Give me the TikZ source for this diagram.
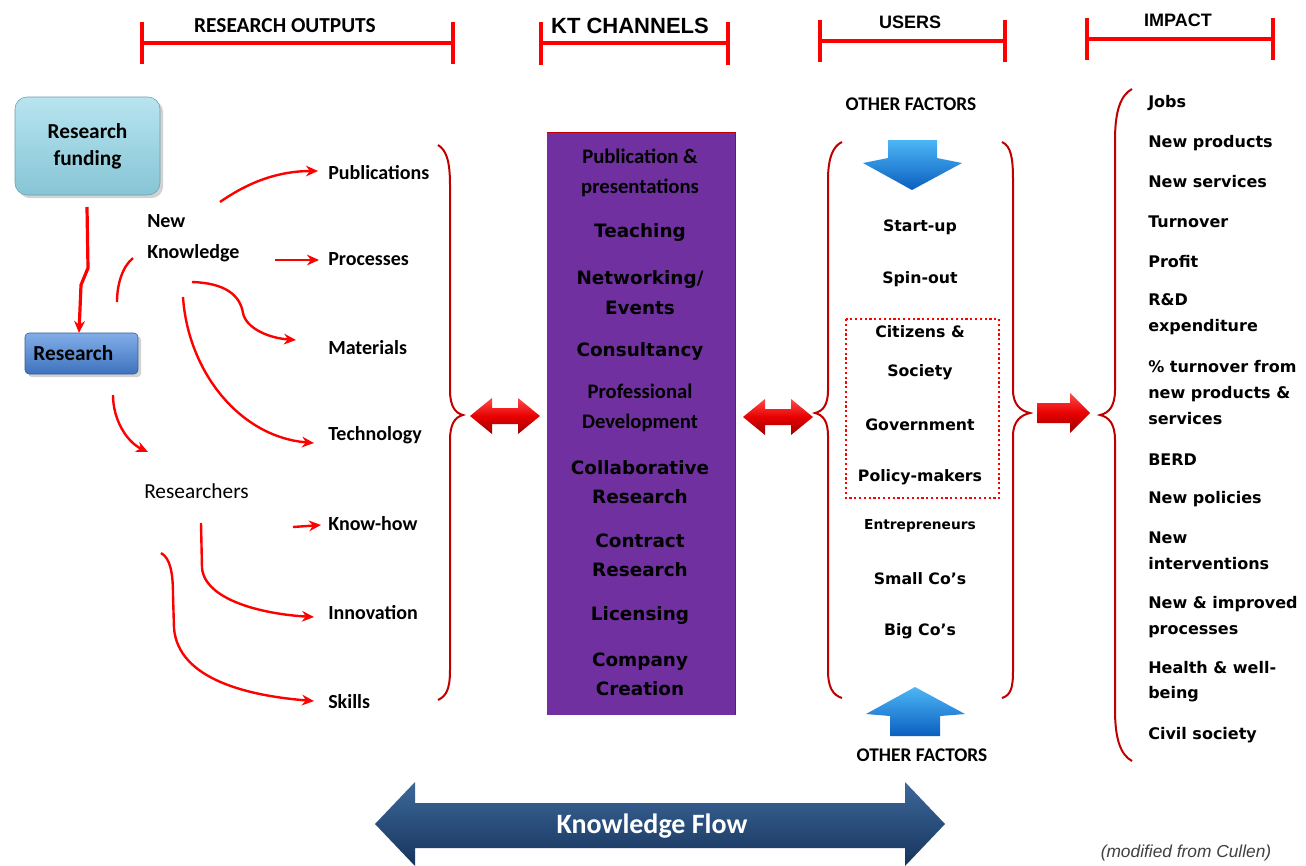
\documentclass[tikz,border=0pt]{standalone}
\usepackage{fontspec}
\setmainfont{Carlito}
\newfontfamily\dvs{DejaVu Sans}
\newfontfamily\lsans{Liberation Sans}
\usetikzlibrary{arrows.meta,shadows}
\definecolor{hred}{HTML}{FF0000}
\definecolor{bred}{HTML}{C00000}
\definecolor{ktpurple}{HTML}{7030A0}
\definecolor{navyA}{HTML}{3D6899}
\definecolor{navyB}{HTML}{16345C}
\definecolor{skyA}{HTML}{B8E4EF}
\definecolor{skyB}{HTML}{86C5D6}
\definecolor{boxA}{HTML}{82AEE8}
\definecolor{boxB}{HTML}{3E72BE}
\definecolor{blueA}{HTML}{4DB6F6}
\definecolor{blueB}{HTML}{0B5FBF}
\definecolor{rA}{HTML}{FF4A4A}
\definecolor{rM}{HTML}{E80000}
\definecolor{rB}{HTML}{9A0000}
\definecolor{notegray}{HTML}{404040}
\tikzset{
  hdrline/.style={hred, line width=3pt},
  hdrtxt/.style={font=\lsans\bfseries\fontsize{15}{17}\selectfont, inner sep=0},
  hdrtxtc/.style={font=\bfseries\fontsize{16}{18}\selectfont, inner sep=0},
  brace/.style={bred, line width=1.5pt},
  flow/.style={hred, line width=1.8pt, -{Stealth[length=9pt,width=8pt]}},
  flowplain/.style={hred, line width=1.8pt},
  outtxt/.style={font=\bfseries\fontsize{15}{18}\selectfont, anchor=west, inner sep=0},
  kt/.style={font=\dvs\bfseries\fontsize{13.8}{22}\selectfont, align=center, inner sep=0},
  ktc/.style={font=\bfseries\fontsize{15.5}{22}\selectfont, align=center, inner sep=0},
  usr/.style={font=\dvs\bfseries\fontsize{11.8}{14}\selectfont, inner sep=0},
  imp/.style={font=\dvs\bfseries\fontsize{12}{19.3}\selectfont, anchor=west, align=left, inner sep=0},
  oth/.style={font=\bfseries\fontsize{14.5}{16}\selectfont, inner sep=0},
  fundbox/.style={rounded corners=9pt, minimum width=108.75pt, minimum height=73.5pt,
     top color=skyA, bottom color=skyB, draw=skyB!80!black, line width=0.4pt,
     drop shadow={opacity=0.35}, align=center,
     font=\bfseries\fontsize{16}{20}\selectfont},
  resbox/.style={rounded corners=3pt, minimum width=84.75pt, minimum height=30.75pt,
     top color=boxA, bottom color=boxB, draw=boxB!80!black, line width=0.4pt,
     drop shadow={opacity=0.35}, font=\bfseries\fontsize{16}{18}\selectfont,
     text width=72pt, align=left},
  ktbox/.style={fill=ktpurple, minimum width=141pt, minimum height=436.5pt, inner sep=0},
  reddbl/.pic={\shade[top color=rA, bottom color=rB, middle color=rM]
     (-35,0) -- (-13,-18) -- (-13,-8) -- (13,-8) -- (13,-18) -- (35,0)
     -- (13,18) -- (13,8) -- (-13,8) -- (-13,18) -- cycle;}
}
\begin{document}
\begin{tikzpicture}[x=0.75pt,y=-0.75pt]
\useasboundingbox (0,0) rectangle (1306,865);
\fill[white] (0,0) rectangle (1306,865);

% ---------- header brackets ----------
\draw[hdrline] (142,22) -- (142,64) (142,43) -- (453,43) (453,22) -- (453,64);
\draw[hdrline] (541,22) -- (541,65) (541,43) -- (728,43) (728,22) -- (728,65);
\draw[hdrline] (820,20) -- (820,62) (820,41) -- (1005,41) (1005,20) -- (1005,62);
\draw[hdrline] (1087,18) -- (1087,60) (1087,39) -- (1273,39) (1273,18) -- (1273,60);
\node[hdrtxtc] (hRO) at (285,26) {RESEARCH OUTPUTS};
\node[hdrtxt, font=\lsans\bfseries\fontsize{16.5}{18}\selectfont] (hKT) at (630,26) {KT CHANNELS};
\node[hdrtxt, font=\lsans\bfseries\fontsize{13.5}{16}\selectfont] (hUS) at (910,22) {USERS};
\node[hdrtxt, font=\lsans\bfseries\fontsize{13.5}{16}\selectfont] (hIM) at (1178,20) {IMPACT};

% ---------- left side ----------
\node[fundbox] (fund) at (87.5,146) {Research\\funding};
\node[resbox] (res) at (81.5,353.5) {Research};
\node[outtxt, align=left, font=\bfseries\fontsize{15}{23}\selectfont] (nk) at (147,238) {New\\Knowledge};
\node[outtxt, font=\fontsize{16}{18}\selectfont] (rsr) at (144,491) {Researchers};

\node[outtxt] (pub) at (328,173) {Publications};
\node[outtxt] (proc) at (328,259) {Processes};
\node[outtxt] (mat) at (328,348) {Materials};
\node[outtxt] (tech) at (328,435) {Technology};
\node[outtxt] (know) at (328,524) {Know-how};
\node[outtxt] (inno) at (328,613) {Innovation};
\node[outtxt] (skl) at (328,702) {Skills};

\coordinate (fA) at (87,207);
\coordinate (rA) at (79,333);
\draw[flow, line width=2.4pt] (fA) -- (88,268) -- (81,285) -- (rA);
\coordinate (nkL) at (117,302);
\coordinate (nkT) at (133,258);
\draw[flowplain] (nkL) .. controls (117,285) and (122,267) .. (nkT);
\coordinate (pubS) at (220,202);
\coordinate (pubE) at (318,171);
\draw[flow] (pubS) .. controls (250,181) and (280,171) .. (pubE);
\coordinate (procS) at (275,260);
\coordinate (procE) at (319,260);
\draw[flow] (procS) -- (procE);
\coordinate (matS) at (192,282);
\coordinate (matE) at (296,340);
\draw[flow] (matS) .. controls (225,283) and (240,295) .. (243,313) .. controls (246,328) and (268,338) .. (matE);
\coordinate (techS) at (183,297);
\coordinate (techE) at (314,443);
\draw[flow] (techS) .. controls (188,372) and (240,437) .. (techE);
\coordinate (rsrS) at (113,395);
\coordinate (rsrE) at (148,452);
\draw[flow] (rsrS) .. controls (113,420) and (127,442) .. (rsrE);
\coordinate (khS) at (293,527);
\coordinate (khE) at (321,525);
\draw[flow] (khS) -- (khE);
\coordinate (innS) at (201,523);
\coordinate (innE) at (314,617);
\draw[flow] (innS) -- (202,568) .. controls (205,600) and (262,614) .. (innE);
\coordinate (sklS) at (161,553);
\coordinate (sklE) at (314,701);
\draw[flow] (sklS) .. controls (170,558) and (173,572) .. (173,595) -- (174,628) .. controls (178,680) and (250,696) .. (sklE);

% research outputs brace
\draw[brace] (438,145) .. controls (446,150) and (450,160) .. (450,185) -- (450,390)
  .. controls (450,406) and (455,413) .. (463,415) .. controls (455,417) and (450,424) .. (450,440)
  -- (450,670) .. controls (450,690) and (446,696) .. (438,700);

% double arrows
\pic at (505,416) {reddbl};
\pic at (778,417) {reddbl};

% ---------- KT channels ----------
\node[ktbox] (kt) at (641,424) {};
\draw[bred, line width=0.8pt] (kt.north west) -- (kt.north east) -- (kt.south east);
\node[ktc] (k1) at (640,173) {Publication \&\\presentations};
\node[kt] (k2) at (640,232) {Teaching};
\node[kt] (k3) at (640,292.5) {Networking/\\Events};
\node[kt] (k4) at (640,351) {Consultancy};
\node[ktc] (k5) at (640,408) {Professional\\Development};
\node[kt] (k6) at (640,482) {Collaborative\\Research};
\node[kt] (k7) at (640,555.5) {Contract\\Research};
\node[kt] (k8) at (640,615) {Licensing};
\node[kt] (k9) at (640,674.5) {Company\\Creation};

% ---------- users ----------
\node[oth] (of1) at (911,104) {OTHER FACTORS};
\node[oth] (of2) at (922,755) {OTHER FACTORS};
\shade[top color=blueA, bottom color=blueB] (888,140) -- (937,140) -- (937,158) -- (962,163) -- (912,190) -- (863,163) -- (888,158) -- cycle;
\shade[top color=blueA, bottom color=blueB] (890,736) -- (940,736) -- (940,716) -- (965,714) -- (915,687) -- (866,714) -- (890,716) -- cycle;
\draw[brace] (842,142) .. controls (833,146) and (828,158) .. (828,180) -- (828,390)
  .. controls (828,405) and (823,411) .. (815,413) .. controls (823,415) and (828,421) .. (828,436)
  -- (828,670) .. controls (828,688) and (833,695) .. (842,698);
\draw[brace] (1002,142) .. controls (1011,146) and (1013,158) .. (1013,180) -- (1013,390)
  .. controls (1013,405) and (1021,411) .. (1030,413) .. controls (1021,415) and (1013,421) .. (1013,436)
  -- (1013,670) .. controls (1013,688) and (1011,695) .. (1002,698);
\draw[hred, dotted, line width=1.6pt] (846,319) rectangle (999,498);
\node[usr] (u1) at (920,227) {Start-up};
\node[usr] (u2) at (920,279) {Spin-out};
\node[usr] (u3) at (920,332) {Citizens \&};
\node[usr] (u4) at (920,372) {Society};
\node[usr] (u5) at (920,425) {Government};
\node[usr] (u6) at (920,477) {Policy-makers};
\node[usr, font=\dvs\bfseries\fontsize{10.3}{12}\selectfont] (u7) at (920,526) {Entrepreneurs};
\node[usr] (u8) at (920,579) {Small Co’s};
\node[usr] (u9) at (920,631) {Big Co’s};

% ---------- impact ----------
\shade[top color=rA, bottom color=rB, middle color=rM] (1037,403) -- (1070,403) -- (1070,393) -- (1090,413) -- (1070,433) -- (1070,423) -- (1037,423) -- cycle;
\draw[brace] (1132,89) .. controls (1121,95) and (1115,110) .. (1115,140) -- (1115,390)
  .. controls (1115,406) and (1109,413) .. (1100,415) .. controls (1109,417) and (1115,424) .. (1115,440)
  -- (1115,710) .. controls (1115,740) and (1121,755) .. (1132,761);
\node[imp] (i1) at (1148,103) {Jobs};
\node[imp] (i2) at (1148,143) {New products};
\node[imp] (i3) at (1148,182) {New services};
\node[imp] (i4) at (1148,222) {Turnover};
\node[imp] (i5) at (1148,262) {Profit};
\node[imp] (i6) at (1148,314) {R\&D\\expenditure};
\node[imp] (i7) at (1148,392.5) {\% turnover from\\new products \&\\services};
\node[imp] (i8) at (1148,460) {BERD};
\node[imp] (i9) at (1148,499) {New policies};
\node[imp] (i10) at (1148,551) {New\\interventions};
\node[imp] (i11) at (1148,617) {New \& improved\\processes};
\node[imp] (i12) at (1148,681.5) {Health \& well-\\being};
\node[imp] (i13) at (1148,735) {Civil society};

% ---------- knowledge flow ----------
\shade[top color=navyA, bottom color=navyB] (375,824) -- (415,782) -- (415,803) -- (905,803) -- (905,782) -- (945,824)
  -- (905,866) -- (905,848) -- (415,848) -- (415,866) -- cycle;
\node[font=\bfseries\fontsize{21}{24}\selectfont, text=white, inner sep=0] (kf) at (652,826) {Knowledge Flow};
\node[font=\lsans\itshape\fontsize{13}{15}\selectfont, text=notegray, inner sep=0] (note) at (1186,853) {(modified from Cullen)};
\end{tikzpicture}
\end{document}
